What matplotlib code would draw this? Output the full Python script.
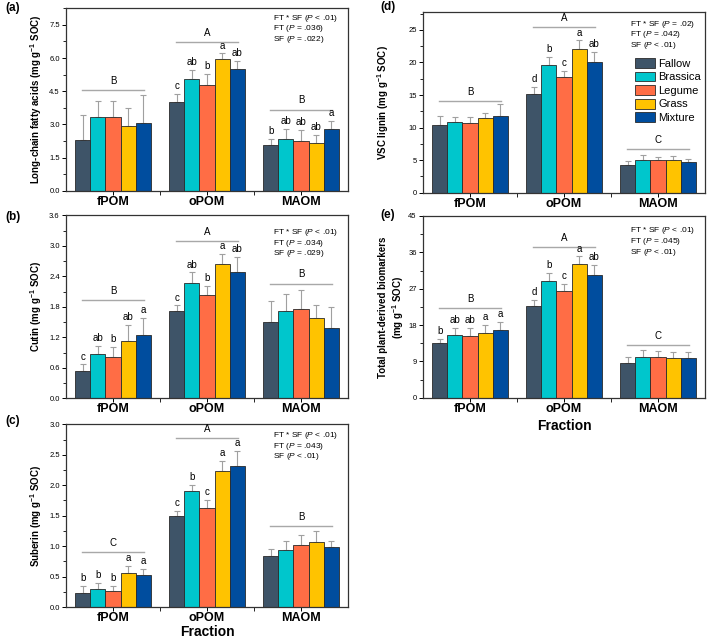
import matplotlib
matplotlib.use("Agg")
import matplotlib.pyplot as plt
import numpy as np
from matplotlib.patches import Patch
from matplotlib.ticker import MultipleLocator, FormatStrFormatter

plt.rcParams['font.family'] = ['Liberation Sans', 'DejaVu Sans']
plt.rcParams['mathtext.fontset'] = 'custom'
plt.rcParams['mathtext.rm'] = 'Liberation Sans'
plt.rcParams['mathtext.it'] = 'Liberation Sans:italic'
plt.rcParams['mathtext.bf'] = 'Liberation Sans:bold'

fractions = ["fPOM", "oPOM", "MAOM"]
treatments = ["Fallow", "Brassica", "Legume", "Grass", "Mixture"]
colors = ["#3e5468", "#00c6cc", "#ff6d45", "#ffc300", "#004d9e"]

# values: rows = fractions, cols = treatments ; errors are upper SE
lcfa = [[2.29, 3.32, 3.35, 2.93, 3.07],
        [4.00, 5.05, 4.80, 5.97, 5.49],
        [2.08, 2.32, 2.26, 2.18, 2.81]]
lcfa_err = [[1.15, 0.74, 0.71, 0.83, 1.26],
            [0.39, 0.42, 0.49, 0.24, 0.39],
            [0.25, 0.49, 0.49, 0.36, 0.35]]
lcfa_let = [["", "", "", "", ""],
            ["c", "ab", "b", "a", "ab"],
            ["b", "ab", "ab", "ab", "a"]]
lcfa_grp = ["B", "A", "B"]
lcfa_grp_y = [4.54, 6.74, 3.67]

cutin = [[0.54, 0.88, 0.82, 1.13, 1.25],
         [1.71, 2.27, 2.04, 2.65, 2.49],
         [1.51, 1.72, 1.76, 1.58, 1.38]]
cutin_err = [[0.13, 0.15, 0.20, 0.31, 0.33],
             [0.12, 0.21, 0.17, 0.19, 0.30],
             [0.41, 0.34, 0.37, 0.25, 0.42]]
cutin_let = [["c", "ab", "b", "ab", "a"],
             ["c", "ab", "b", "a", "ab"],
             ["", "", "", "", ""]]
cutin_grp = ["B", "A", "B"]
cutin_grp_y = [1.94, 3.09, 2.26]

suberin = [[0.235, 0.30, 0.26, 0.56, 0.53],
           [1.50, 1.90, 1.63, 2.24, 2.31],
           [0.84, 0.93, 1.01, 1.07, 0.99]]
suberin_err = [[0.115, 0.09, 0.09, 0.11, 0.09],
               [0.08, 0.11, 0.13, 0.16, 0.25],
               [0.12, 0.15, 0.17, 0.18, 0.09]]
suberin_let = [["b", "b", "b", "a", "a"],
               ["c", "b", "c", "a", "a"],
               ["", "", "", "", ""]]
suberin_grp = ["C", "A", "B"]
suberin_grp_y = [0.90, 2.78, 1.33]

lignin = [[10.35, 10.81, 10.71, 11.42, 11.83],
          [15.2, 19.6, 17.8, 22.1, 20.0],
          [4.30, 5.07, 4.97, 5.07, 4.71]]
lignin_err = [[1.43, 0.87, 0.97, 0.88, 1.75],
              [1.0, 1.2, 0.9, 1.3, 1.6],
              [0.62, 0.67, 0.56, 0.51, 0.46]]
lignin_let = [["", "", "", "", ""],
              ["d", "b", "c", "a", "ab"],
              ["", "", "", "", ""]]
lignin_grp = ["B", "A", "C"]
lignin_grp_y = [14.1, 25.4, 6.76]

total = [[13.6, 15.5, 15.3, 16.1, 16.8],
         [22.7, 29.0, 26.5, 33.2, 30.5],
         [8.7, 10.0, 10.0, 9.9, 9.9]]
total_err = [[0.9, 1.7, 1.9, 1.9, 1.9],
             [1.5, 1.9, 1.6, 1.8, 2.4],
             [1.5, 1.75, 1.6, 1.4, 1.4]]
total_let = [["b", "ab", "ab", "a", "a"],
             ["d", "b", "c", "a", "ab"],
             ["", "", "", "", ""]]
total_grp = ["B", "A", "C"]
total_grp_y = [22.2, 37.4, 13.1]

stats_a = ["FT * SF ($\\it{P}$ < .01)", "FT ($\\it{P}$ = .036)", "SF ($\\it{P}$ = .022)"]
stats_b = ["FT * SF ($\\it{P}$ < .01)", "FT ($\\it{P}$ = .034)", "SF ($\\it{P}$ = .029)"]
stats_c = ["FT * SF ($\\it{P}$ < .01)", "FT ($\\it{P}$ = .043)", "SF ($\\it{P}$ < .01)"]
stats_d = ["FT * SF ($\\it{P}$ = .02)", "FT ($\\it{P}$ = .042)", "SF ($\\it{P}$ < .01)"]
stats_e = ["FT * SF ($\\it{P}$ < .01)", "FT ($\\it{P}$ = .045)", "SF ($\\it{P}$ < .01)"]

W, H = 709, 642
fig = plt.figure(figsize=(W / 100, H / 100), dpi=100)


def add_ax(left, right, top, bottom):
    return fig.add_axes([left / W, 1 - bottom / H, (right - left) / W, (bottom - top) / H])


def draw(ax, vals, errs, lets, grp, grp_y, ylim, major, fmt, ylabel, stats, stat_top_px):
    vals = np.array(vals)
    errs = np.array(errs)
    x = np.arange(1, len(fractions) + 1)
    bw = 0.16
    for i, t in enumerate(treatments):
        xi = x + (i - 2) * bw
        ax.bar(xi, vals[:, i], width=bw, color=colors[i], edgecolor="#2a2a2a", linewidth=0.6, zorder=2)
        ax.errorbar(xi, vals[:, i], yerr=[np.zeros(len(x)), errs[:, i]], fmt="none",
                    ecolor="#a0a0a0", elinewidth=0.8, capsize=2.5, capthick=0.8, zorder=1)
        for j in range(len(x)):
            if lets[j][i]:
                ax.annotate(lets[j][i], (xi[j], vals[j, i] + errs[j, i]), xytext=(0, 2),
                            textcoords="offset points", ha="center", va="bottom", fontsize=7)
    for j in range(len(x)):
        ax.plot([x[j] - 0.335, x[j] + 0.335], [grp_y[j], grp_y[j]], color="#a8a8a8", lw=1.0, zorder=1)
        ax.annotate(grp[j], (x[j], grp_y[j]), xytext=(0, 3), textcoords="offset points",
                    ha="center", va="bottom", fontsize=7)
    ax.set_xlim(0.5, 3.5)
    ax.set_ylim(*ylim)
    ax.set_xticks(x)
    ax.set_xticklabels(fractions, fontsize=9, fontweight="bold")
    ax.set_xticks([1.5, 2.5], minor=True)
    ax.yaxis.set_major_locator(MultipleLocator(major))
    ax.yaxis.set_minor_locator(MultipleLocator(major / 2))
    ax.yaxis.set_major_formatter(FormatStrFormatter(fmt))
    ax.tick_params(axis="y", which="major", labelsize=5.5, length=3, width=0.7, direction="out", pad=1.5)
    ax.tick_params(axis="y", which="minor", length=2, width=0.6, direction="out")
    ax.tick_params(axis="x", which="major", length=3, width=0.7, direction="out", pad=0.5)
    ax.tick_params(axis="x", which="minor", length=3, width=0.6, direction="out")
    for s in ax.spines.values():
        s.set_linewidth(0.9)
        s.set_color("#333333")
    ax.set_ylabel(ylabel, fontsize=7, fontweight="bold", labelpad=3)
    bb = ax.get_position()
    hpx = bb.height * H
    for k, s in enumerate(stats):
        ax.text(0.733, 1 - (stat_top_px + k * 10.7) / hpx, s, transform=ax.transAxes,
                fontsize=6, ha="left", va="center")
    return ax


ax_a = add_ax(66, 348, 8.3, 190.7)
draw(ax_a, lcfa, lcfa_err, lcfa_let, lcfa_grp, lcfa_grp_y, (0, 8.25), 1.5, "%.1f",
     "Long-chain fatty acids (mg g$^{\\mathbf{-1}}$ SOC)", stats_a, 10)
ax_b = add_ax(66, 348, 215.5, 398.3)
draw(ax_b, cutin, cutin_err, cutin_let, cutin_grp, cutin_grp_y, (0, 3.6), 0.6, "%.1f",
     "Cutin (mg g$^{\\mathbf{-1}}$ SOC)", stats_b, 17)
ax_c = add_ax(66, 348, 424.3, 607)
draw(ax_c, suberin, suberin_err, suberin_let, suberin_grp, suberin_grp_y, (0, 3.0), 0.5, "%.1f",
     "Suberin (mg g$^{\\mathbf{-1}}$ SOC)", stats_c, 11)
ax_c.set_xlabel("Fraction", fontsize=10, fontweight="bold", labelpad=1)
ax_d = add_ax(423, 705, 11.7, 192.7)
draw(ax_d, lignin, lignin_err, lignin_let, lignin_grp, lignin_grp_y, (0, 27.8), 5, "%d",
     "VSC lignin (mg g$^{\\mathbf{-1}}$ SOC)", stats_d, 12.3)
ax_e = add_ax(423, 705, 216, 397.7)
draw(ax_e, total, total_err, total_let, total_grp, total_grp_y, (0, 45), 9, "%d",
     "Total plant-derived biomarkers\n(mg g$^{\\mathbf{-1}}$ SOC)", stats_e, 15)
ax_e.set_xlabel("Fraction", fontsize=10, fontweight="bold", labelpad=3)

for ax in (ax_a, ax_b, ax_c):
    ax.yaxis.set_label_coords(-22 / 282, 0.5)
ax_d.yaxis.set_label_coords(-32 / 282, 0.5)
ax_e.yaxis.set_label_coords(-17 / 282, 0.5)

# panel labels
for lab, xp, yp in [("(a)", 5, 8), ("(b)", 5, 217), ("(c)", 5, 421), ("(d)", 380, 7), ("(e)", 380, 215)]:
    fig.text(xp / W, 1 - yp / H, lab, fontsize=8.5, fontweight="bold", ha="left", va="center")

handles = [Patch(facecolor=c, edgecolor="#2a2a2a", linewidth=0.6) for c in colors]
ax_d.legend(handles, treatments, loc="upper left", bbox_to_anchor=((635 - 423) / 282, (192.7 - 58) / 181),
            frameon=False, fontsize=8, handlelength=1.8, handleheight=1.0, handletextpad=0.3,
            labelspacing=0.25, borderpad=0, borderaxespad=0)

fig.savefig("out.png", dpi=100)
